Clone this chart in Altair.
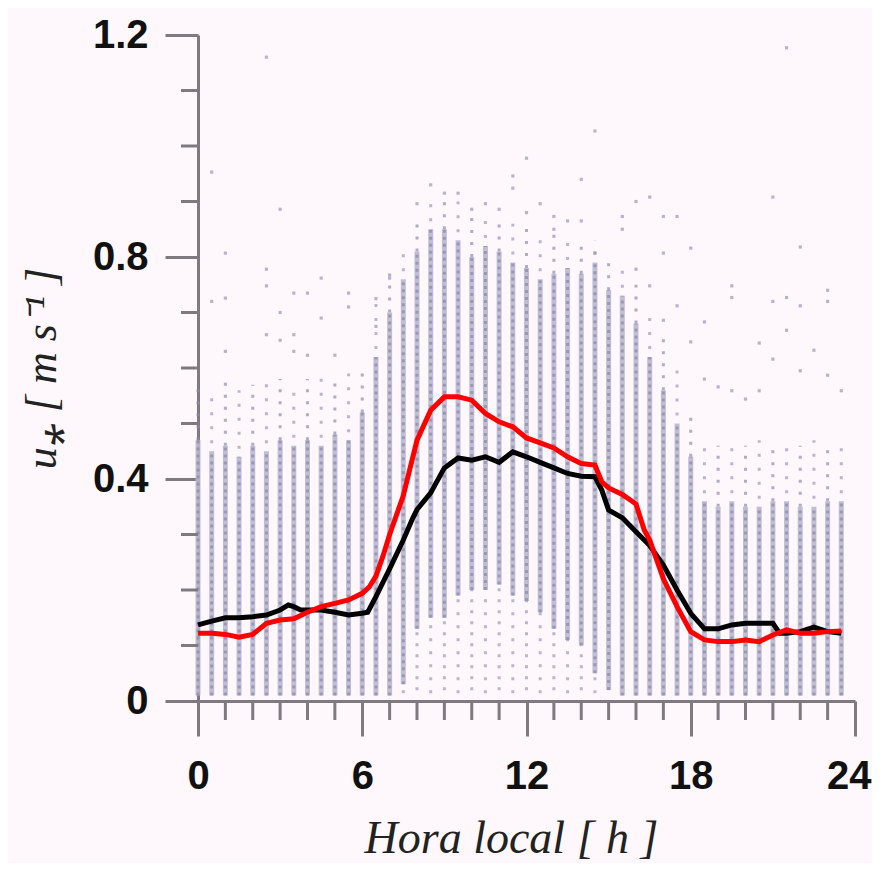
import altair as alt
import pandas as pd

# ---- column (half-hourly) spread of the u* samples ----
hours = [0.0, 0.5, 1.0, 1.5, 2.0, 2.5, 3.0, 3.5, 4.0, 4.5, 5.0, 5.5,
         6.0, 6.5, 7.0, 7.5, 8.0, 8.5, 9.0, 9.5, 10.0, 10.5, 11.0, 11.5,
         12.0, 12.5, 13.0, 13.5, 14.0, 14.5, 15.0, 15.5, 16.0, 16.5, 17.0, 17.5,
         18.0, 18.5, 19.0, 19.5, 20.0, 20.5, 21.0, 21.5, 22.0, 22.5, 23.0, 23.5]
sparse_lo = [0.005] * 48
dense_lo = [0.01, 0.01, 0.01, 0.01, 0.01, 0.01, 0.01, 0.01, 0.01, 0.01, 0.01, 0.01,
            0.01, 0.01, 0.01, 0.03, 0.13, 0.15, 0.15, 0.19, 0.20, 0.20, 0.21, 0.19,
            0.18, 0.16, 0.13, 0.11, 0.10, 0.05, 0.02, 0.01, 0.01, 0.01, 0.01, 0.01,
            0.01, 0.01, 0.01, 0.01, 0.01, 0.01, 0.01, 0.01, 0.01, 0.01, 0.01, 0.01]
dense_hi = [0.47, 0.45, 0.46, 0.44, 0.46, 0.45, 0.47, 0.46, 0.47, 0.46, 0.48, 0.47,
            0.52, 0.62, 0.70, 0.76, 0.81, 0.85, 0.85, 0.83, 0.80, 0.82, 0.81, 0.79,
            0.78, 0.76, 0.77, 0.78, 0.77, 0.79, 0.74, 0.73, 0.68, 0.62, 0.56, 0.50,
            0.44, 0.36, 0.35, 0.36, 0.35, 0.35, 0.36, 0.36, 0.35, 0.35, 0.36, 0.36]
sparse_hi = [0.57, 0.56, 0.58, 0.56, 0.57, 0.58, 0.58, 0.57, 0.58, 0.59, 0.58, 0.59,
             0.60, 0.72, 0.78, 0.82, 0.87, 0.91, 0.90, 0.90, 0.88, 0.88, 0.87, 0.86,
             0.86, 0.84, 0.84, 0.84, 0.82, 0.83, 0.80, 0.79, 0.75, 0.70, 0.66, 0.60,
             0.52, 0.47, 0.46, 0.47, 0.46, 0.47, 0.46, 0.47, 0.46, 0.47, 0.46, 0.47]

# ---- isolated outlying samples ----
out_h = [0.5, 3.0, 1.0, 2.5, 2.5, 3.5, 4.5, 7.0, 0.5, 1.0, 3.0, 3.5, 4.0, 4.5, 5.5,
         5.5, 6.5, 3.5, 2.5, 3.0, 1.0, 4.0, 5.0, 2.5, 6.5,
         12.0, 11.5, 11.5, 14.0, 9.5, 8.5, 9.0, 8.0, 10.0, 10.5, 11.0, 12.5, 12.0,
         13.0, 13.0, 13.5, 14.0, 15.5, 15.5, 14.5, 16.0, 14.5,
         16.5, 21.0, 17.0, 17.5, 18.0, 17.0, 16.0, 16.5, 19.5, 19.5, 21.0, 21.5,
         23.0, 23.0, 22.0, 17.5, 17.0, 18.5, 21.5, 18.0, 20.5, 22.5, 21.0, 22.0,
         23.0, 21.5, 22.0, 18.5, 19.5, 20.5, 23.5, 19.0, 20.0]
out_v = [0.953, 0.886, 0.807, 0.778, 0.748, 0.735, 0.762, 0.762, 0.72, 0.726, 0.70,
         0.66, 0.735, 0.69, 0.735, 0.71, 0.725, 0.63, 0.66, 0.65, 0.63, 0.623, 0.623,
         1.16, 0.675,
         0.978, 0.946, 0.924, 0.94, 0.915, 0.93, 0.915, 0.896, 0.886, 0.896, 0.886,
         0.896, 0.88, 0.873, 0.85, 0.865, 0.865, 0.873, 0.85, 0.807, 0.90, 1.027,
         0.908, 0.908, 0.873, 0.873, 0.816, 0.807, 0.778, 0.748, 0.748, 0.727, 0.72,
         0.727, 0.74, 0.72, 0.712, 0.712, 0.686, 0.683, 0.668, 0.647, 0.645, 0.632,
         0.616, 0.595, 0.587, 1.177, 0.818, 0.58, 0.559, 0.559, 0.559, 0.566, 0.544]

# ---- mean curves ----
black_h = [0.0, 0.5, 1.0, 1.5, 2.0, 2.5, 3.0, 3.3, 3.5, 3.75, 4.0, 4.5, 5.0, 5.5, 6.0,
           6.2, 6.5, 7.0, 7.5, 7.85, 8.0, 8.5, 9.0, 9.5, 10.0, 10.5, 11.0, 11.5, 12.0,
           12.5, 13.0, 13.5, 14.0, 14.5, 14.75, 15.0, 15.5, 16.0, 16.5, 17.0, 17.5,
           18.0, 18.5, 19.0, 19.5, 20.0, 20.5, 21.0, 21.25, 21.5, 22.0, 22.5, 23.0, 23.5]
black_v = [0.137, 0.144, 0.15, 0.15, 0.152, 0.155, 0.164, 0.173, 0.17, 0.164, 0.164,
           0.164, 0.16, 0.155, 0.158, 0.16, 0.188, 0.238, 0.29, 0.33, 0.345, 0.375,
           0.42, 0.438, 0.434, 0.44, 0.43, 0.449, 0.44, 0.43, 0.42, 0.41, 0.405, 0.404,
           0.38, 0.344, 0.33, 0.305, 0.28, 0.245, 0.2, 0.158, 0.13, 0.13, 0.137, 0.14,
           0.14, 0.14, 0.122, 0.122, 0.125, 0.133, 0.125, 0.122]
red_h = [0.0, 0.5, 1.0, 1.5, 2.0, 2.5, 3.0, 3.5, 4.0, 4.5, 5.0, 5.5, 6.0, 6.25, 6.5,
         6.75, 7.0, 7.5, 8.0, 8.5, 9.0, 9.5, 10.0, 10.5, 11.0, 11.5, 12.0, 12.5, 13.0,
         13.5, 14.0, 14.5, 14.75, 15.0, 15.5, 16.0, 16.3, 16.5, 17.0, 17.5, 18.0,
         18.5, 19.0, 19.5, 20.0, 20.5, 21.0, 21.5, 22.0, 22.5, 23.0, 23.5]
red_v = [0.122, 0.122, 0.12, 0.115, 0.12, 0.14, 0.146, 0.148, 0.16, 0.17, 0.176,
         0.182, 0.194, 0.205, 0.225, 0.26, 0.3, 0.37, 0.47, 0.524, 0.548, 0.548, 0.542,
         0.518, 0.503, 0.494, 0.474, 0.465, 0.456, 0.44, 0.428, 0.425, 0.395, 0.384,
         0.372, 0.355, 0.308, 0.29, 0.22, 0.17, 0.125, 0.11, 0.107, 0.107, 0.11, 0.107,
         0.119, 0.128, 0.122, 0.122, 0.125, 0.126]

x_major = [0, 6, 12, 18, 24]
x_minor = [1, 2, 3, 4, 5, 7, 8, 9, 10, 11, 13, 14, 15, 16, 17, 19, 20, 21, 22, 23]
y_major = [0.0, 0.4, 0.8, 1.2]
y_minor = [0.1, 0.2, 0.3, 0.5, 0.6, 0.7, 0.9, 1.0, 1.1]

cols = pd.DataFrame({"hour": hours, "slo": sparse_lo, "dlo": dense_lo,
                     "dhi": dense_hi, "shi": sparse_hi})
outs = pd.DataFrame({"hour": out_h, "u": out_v})
blk = pd.DataFrame({"hour": black_h, "u": black_v})
red = pd.DataFrame({"hour": red_h, "u": red_v})
xmin_df = pd.DataFrame({"hour": x_minor})
ymin_df = pd.DataFrame({"u": y_minor})

AX = "#7f7a80"
x_axis = alt.Axis(
    values=x_major, title="Hora local [ h ]",
    tickSize=35, tickColor=AX, tickWidth=3, domainColor=AX, domainWidth=3,
    labelFont="Liberation Sans", labelFontSize=40, labelFontWeight="bold",
    labelColor="#111", labelPadding=20, labelFlush=False,
    labelAlign={"condition": {"test": "datum.value === 24", "value": "right"},
                "value": "center"},
    labelOffset={"condition": {"test": "datum.value === 24", "value": 16}, "value": 0},
    titleFont="Liberation Serif", titleFontStyle="italic", titleFontWeight="normal",
    titleFontSize=46, titleColor="#222", titlePadding=20, titleX=313, grid=False,
)
y_axis = alt.Axis(
    values=y_major, title="u\u204e [ m s\u207b\u00b9 ]",
    labelExpr="datum.value === 0 ? '0' : format(datum.value, '.1f')",
    tickSize=33, tickColor=AX, tickWidth=3, domainColor=AX, domainWidth=3,
    labelFont="Liberation Sans", labelFontSize=40, labelFontWeight="bold",
    labelColor="#111", labelPadding=17, labelFlush=False,
    titleFont="Liberation Serif", titleFontStyle="italic", titleFontWeight="normal",
    titleFontSize=44, titleColor="#222", titlePadding=28, grid=False,
)
xs = alt.Scale(domain=[0, 24], nice=False)
ys = alt.Scale(domain=[0, 1.2], nice=False)

def X():
    return alt.X("hour:Q", scale=xs, axis=x_axis)

def Y(f):
    return alt.Y(f + ":Q", scale=ys, axis=y_axis)

COL = "#b9b7cf"
DARK = "#8d8bab"
even = "datum.hour % 1 === 0"
odd = "datum.hour % 1 !== 0"

base = alt.Chart(cols)
sp_top_e = base.transform_filter(even).mark_rule(
    color=DARK, strokeWidth=3, strokeDash=[3, 9], opacity=0.7).encode(
    x=X(), y=Y("dhi"), y2="shi")
sp_top_o = base.transform_filter(odd).mark_rule(
    color=DARK, strokeWidth=3, strokeDash=[3, 11], strokeDashOffset=6, opacity=0.6).encode(
    x=X(), y=Y("dhi"), y2="shi")
sp_bot_e = base.transform_filter(even).mark_rule(
    color=DARK, strokeWidth=3, strokeDash=[3, 8], strokeDashOffset=3, opacity=0.6).encode(
    x=X(), y=Y("slo"), y2="dlo")
sp_bot_o = base.transform_filter(odd).mark_rule(
    color=DARK, strokeWidth=3, strokeDash=[3, 10], strokeDashOffset=8, opacity=0.6).encode(
    x=X(), y=Y("slo"), y2="dlo")
dense = base.mark_rule(color=COL, strokeWidth=5, opacity=0.9).encode(
    x=X(), y=Y("dlo"), y2="dhi")
dense_tex = base.mark_rule(color=DARK, strokeWidth=3, strokeDash=[3, 4],
                           opacity=0.75).encode(x=X(), y=Y("dlo"), y2="dhi")
pts = alt.Chart(outs).mark_square(size=10, color="#9896b4").encode(x=X(), y=Y("u"))
bl = alt.Chart(blk).mark_line(color="#000000", strokeWidth=5).encode(x=X(), y=Y("u"))
rl = alt.Chart(red).mark_line(color="#ff0000", strokeWidth=5).encode(x=X(), y=Y("u"))

xminor = alt.Chart(xmin_df).mark_rule(color=AX, strokeWidth=3).encode(
    x=X(), y=alt.value(666), y2=alt.value(685))
yminor = alt.Chart(ymin_df).mark_rule(color=AX, strokeWidth=3).encode(
    y=Y("u"), x=alt.value(0), x2=alt.value(-17))

chart = alt.layer(sp_top_e, sp_top_o, sp_bot_e, sp_bot_o, dense, dense_tex, pts,
                  bl, rl, xminor, yminor).properties(
    width=657, height=666,
    autosize=alt.AutoSizeParams(type="none"),
    padding={"left": 190, "top": 27, "right": 17, "bottom": 162},
    background="#fef8fc",
).configure_view(stroke=None)

chart.save("out.html", embed_options={"renderer": "svg", "actions": False})
